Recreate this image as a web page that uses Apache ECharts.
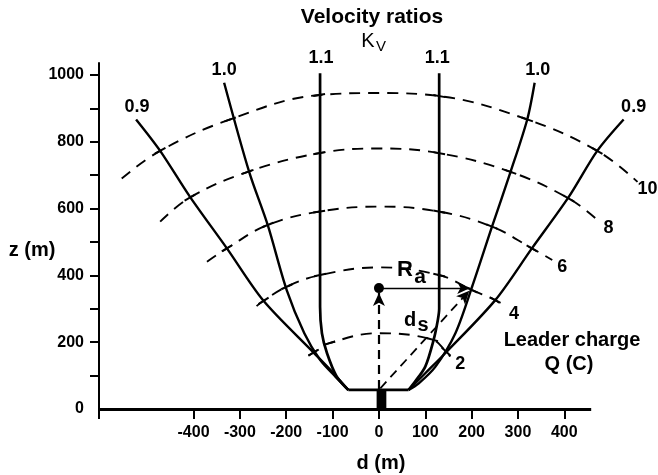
<!DOCTYPE html>
<html>
<head>
<meta charset="utf-8">
<script src="https://cdn.jsdelivr.net/npm/echarts@6/dist/echarts.min.js"></script>
<style>
  html, body { margin: 0; padding: 0; background: #fff; }
  #chart { width: 658px; height: 475px; }
</style>
</head>
<body>
<div id="chart"></div>
<script>
// 速度比 Kv 曲线, 点为 [d, z] (m), 从顶端到地面拐角
const kv09Left = [[-524, 867], [-472, 773], [-408, 636], [-328, 481], [-249, 324], [-141, 169], [-98, 107], [-66, 57]];
const kv10Left = [[-334, 977], [-280, 710], [-240, 551], [-199, 356], [-161, 227], [-127, 147], [-94, 97], [-66, 57]];
const kv11Left = [[-127, 1005], [-127, 306], [-123, 227], [-112, 167], [-91, 97], [-66, 57]];
const kv11Right = [[130, 1005], [130, 300], [127, 266], [118, 207], [100, 127], [78, 82], [64, 57]];
const kv10Right = [[336, 977], [320, 867], [284, 710], [244, 546], [201, 366], [165, 227], [122, 127], [86, 77], [64, 57]];
const kv09Right = [[528, 867], [471, 773], [410, 636], [330, 481], [251, 326], [143, 167], [100, 107], [64, 57]];
const groundLine = [[-66, 57], [64, 57]];

// 先导电荷 Q (C) 虚线
const q10 = [[-555, 690], [-472, 773], [-321, 867], [-129, 940], [0, 946], [130, 937], [320, 867], [471, 773], [558, 680]];
const q8 = [[-472, 561], [-408, 633], [-283, 710], [-129, 766], [0, 780], [130, 766], [284, 710], [410, 630], [474, 563]];
const q6 = [[-371, 441], [-328, 481], [-240, 551], [-129, 591], [0, 606], [130, 591], [244, 546], [330, 481], [374, 446]];
const q4 = [[-264, 308], [-249, 324], [-199, 366], [-127, 401], [0, 424], [130, 401], [201, 356], [251, 326], [270, 306]];
const q2 = [[-152, 160], [-141, 169], [-107, 197], [0, 227], [115, 208], [145, 172], [154, 157]];

// 虚线和实线相交的位置 (索引)
const q10Cross = [1, 2, 3, 5, 6, 7];
const q8Cross = [1, 2, 3, 5, 6, 7];
const q6Cross = [1, 2, 3, 5, 6, 7];
const q4Cross = [1, 2, 3, 5, 6, 7];
const q2Cross = [1, 2, 4, 5];

// 结构物和箭头
const structureRect = [-5, 16, 0, 57]; // d0, d1, z0, z1
const leaderTip = [0, 362];
const arrowUp = [[0, 60], [0, 347]];
const arrowRa = [[0, 362], [197, 362]];
const arrowDs = [[3, 62], [195, 354]];

// 坐标轴
const xStart = -604;
const xEnd = 458;
const xTicks = [-400, -300, -200, -100, 0, 100, 200, 300, 400];
const yTicks = [100, 200, 300, 400, 500, 600, 700, 800, 900, 1000];
const yLabels = [0, 200, 400, 600, 800, 1000];

const FONT = "'Liberation Sans', Arial, sans-serif";

const kvCurves = [
  { name: '0.9', pts: kv09Left, width: 2.4, off: [1, -12] },
  { name: '1.0', pts: kv10Left, width: 2.4, off: [0, -13] },
  { name: '1.1', pts: kv11Left, width: 2.7, off: [1, -15] },
  { name: '1.1', pts: kv11Right, width: 2.7, off: [-2, -15] },
  { name: '1.0', pts: kv10Right, width: 2.4, off: [3, -13] },
  { name: '0.9', pts: kv09Right, width: 2.4, off: [10, -12] }
];
const qCurves = [
  { name: '10', pts: q10, cross: q10Cross },
  { name: '8', pts: q8, cross: q8Cross },
  { name: '6', pts: q6, cross: q6Cross },
  { name: '4', pts: q4, cross: q4Cross },
  { name: '2', pts: q2, cross: q2Cross }
];

const series = [];

qCurves.forEach(function (c) {
  series.push({
    type: 'line',
    data: c.pts,
    symbol: 'none',
    smooth: 0.4,
    lineStyle: { color: '#000', width: 1.9, type: [11, 8] },
    z: 2
  });
});

kvCurves.forEach(function (c) {
  series.push({
    type: 'line',
    data: c.pts,
    symbol: 'none',
    smooth: 0.3,
    lineStyle: { color: '#000', width: c.width },
    z: 3
  });
});

series.push({
  type: 'line',
  data: groundLine,
  symbol: 'none',
  lineStyle: { color: '#000', width: 2.7 },
  z: 3
});

// 交点短线
const tickData = [];
qCurves.forEach(function (c) {
  c.cross.forEach(function (i) {
    const p = c.pts[i], a = c.pts[i - 1], b = c.pts[i + 1];
    tickData.push([p[0], p[1], a[0], a[1], b[0], b[1]]);
  });
});
series.push({
  type: 'custom',
  data: tickData,
  encode: { x: 0, y: 1 },
  z: 4,
  renderItem: function (params, api) {
    const p = api.coord([api.value(0), api.value(1)]);
    const a = api.coord([api.value(2), api.value(3)]);
    const b = api.coord([api.value(4), api.value(5)]);
    let dx = b[0] - a[0], dy = b[1] - a[1];
    const l = Math.hypot(dx, dy);
    dx /= l; dy /= l;
    const h = 6;
    return {
      type: 'line',
      shape: { x1: p[0] - dx * h, y1: p[1] - dy * h, x2: p[0] + dx * h, y2: p[1] + dy * h },
      style: { stroke: '#000', lineWidth: 2 }
    };
  }
});

// 结构物
series.push({
  type: 'custom',
  data: [structureRect],
  encode: { x: [0, 1], y: [2, 3] },
  z: 5,
  renderItem: function (params, api) {
    const tl = api.coord([api.value(0), api.value(3)]);
    const br = api.coord([api.value(1), api.value(2)]);
    return {
      type: 'rect',
      shape: { x: tl[0], y: tl[1], width: br[0] - tl[0], height: br[1] - tl[1] },
      style: { fill: '#000' }
    };
  }
});

// 先导头部的点
series.push({
  type: 'scatter',
  data: [leaderTip],
  symbol: 'circle',
  symbolSize: 10,
  itemStyle: { color: '#000', opacity: 1 },
  z: 6
});

// 箭头
series.push({
  type: 'line',
  data: [],
  markLine: {
    silent: true,
    symbol: ['none', 'arrow'],
    symbolSize: [9, 13],
    label: { show: false },
    data: [
      [{ coord: arrowUp[0], lineStyle: { type: [9, 6], width: 2.2, color: '#000' } }, { coord: arrowUp[1] }],
      [{ coord: arrowRa[0], lineStyle: { type: 'solid', width: 1.4, color: '#000' } }, { coord: arrowRa[1] }],
      [{ coord: arrowDs[0], lineStyle: { type: [9, 6], width: 1.8, color: '#000' } }, { coord: arrowDs[1] }]
    ]
  },
  z: 5
});

// x 轴线 (只画到 xEnd)
series.push({
  type: 'line',
  data: [],
  markLine: {
    silent: true,
    symbol: ['none', 'none'],
    label: { show: false },
    lineStyle: { type: 'solid', width: 3, color: '#000' },
    data: [[{ coord: [xStart, 0] }, { coord: [xEnd, 0] }]]
  },
  z: 8
});

// 曲线标注
series.push({
  type: 'scatter',
  symbolSize: 1,
  itemStyle: { color: 'rgba(0,0,0,0)', opacity: 1 },
  z: 7,
  data: kvCurves.map(function (c) {
    return {
      value: c.pts[0],
      label: {
        show: true, position: 'inside', offset: c.off, formatter: c.name,
        color: '#000', fontFamily: FONT, fontSize: 18, fontWeight: 'bold'
      }
    };
  }).concat(qCurves.map(function (c) {
    return {
      value: c.pts[c.pts.length - 1],
      label: {
        show: true, position: 'inside', offset: [10, 7], formatter: c.name,
        color: '#000', fontFamily: FONT, fontSize: 18, fontWeight: 'bold'
      }
    };
  }))
});

function txt(x, y, text, size, weight) {
  return {
    type: 'text', x: x, y: y,
    style: {
      text: text, fill: '#000', font: (weight || 'normal') + ' ' + size + 'px ' + FONT,
      textAlign: 'center', textVerticalAlign: 'middle'
    }
  };
}

const option = {
  animation: false,
  backgroundColor: '#fff',
  // x 方向比例 0.4632 px/m, 右边放宽到 600 m, 让右侧曲线不被裁掉
  grid: { left: 99, right: 1, top: 63, bottom: 66 },
  xAxis: {
    type: 'value',
    min: xStart,
    max: 600,
    splitLine: { show: false },
    axisLine: { show: false, onZero: false },
    axisTick: { customValues: [xStart].concat(xTicks), length: 10, lineStyle: { color: '#000', width: 2 } },
    axisLabel: {
      customValues: xTicks, margin: 16, color: '#000',
      fontFamily: FONT, fontSize: 16, fontWeight: 'bold',
      formatter: function (v) { return String(v); }
    }
  },
  yAxis: {
    type: 'value',
    min: 0,
    max: 1036,
    splitLine: { show: false },
    axisLine: { onZero: false, lineStyle: { color: '#000', width: 2 } },
    axisTick: { customValues: yTicks, length: 9, lineStyle: { color: '#000', width: 2 } },
    axisLabel: {
      customValues: yLabels, margin: 15, color: '#000',
      fontFamily: FONT, fontSize: 16, fontWeight: 'bold',
      formatter: function (v) { return String(v); }
    }
  },
  graphic: [
    txt(372, 17, 'Velocity ratios', 21, 'bold'),
    txt(368, 41, 'K', 20),
    txt(381, 47, 'V', 15),
    txt(32, 250, 'z (m)', 20, 'bold'),
    txt(381, 463, 'd (m)', 20, 'bold'),
    txt(572, 340, 'Leader charge', 20, 'bold'),
    txt(569, 364, 'Q (C)', 20, 'bold'),
    txt(405, 270, 'R', 22, 'bold'),
    txt(420, 277, 'a', 21, 'bold'),
    txt(410, 320, 'd', 20, 'bold'),
    txt(423, 325, 's', 20, 'bold')
  ],
  series: series
};

const chart = echarts.init(document.getElementById('chart'));
chart.setOption(option);
</script>
</body>
</html>
